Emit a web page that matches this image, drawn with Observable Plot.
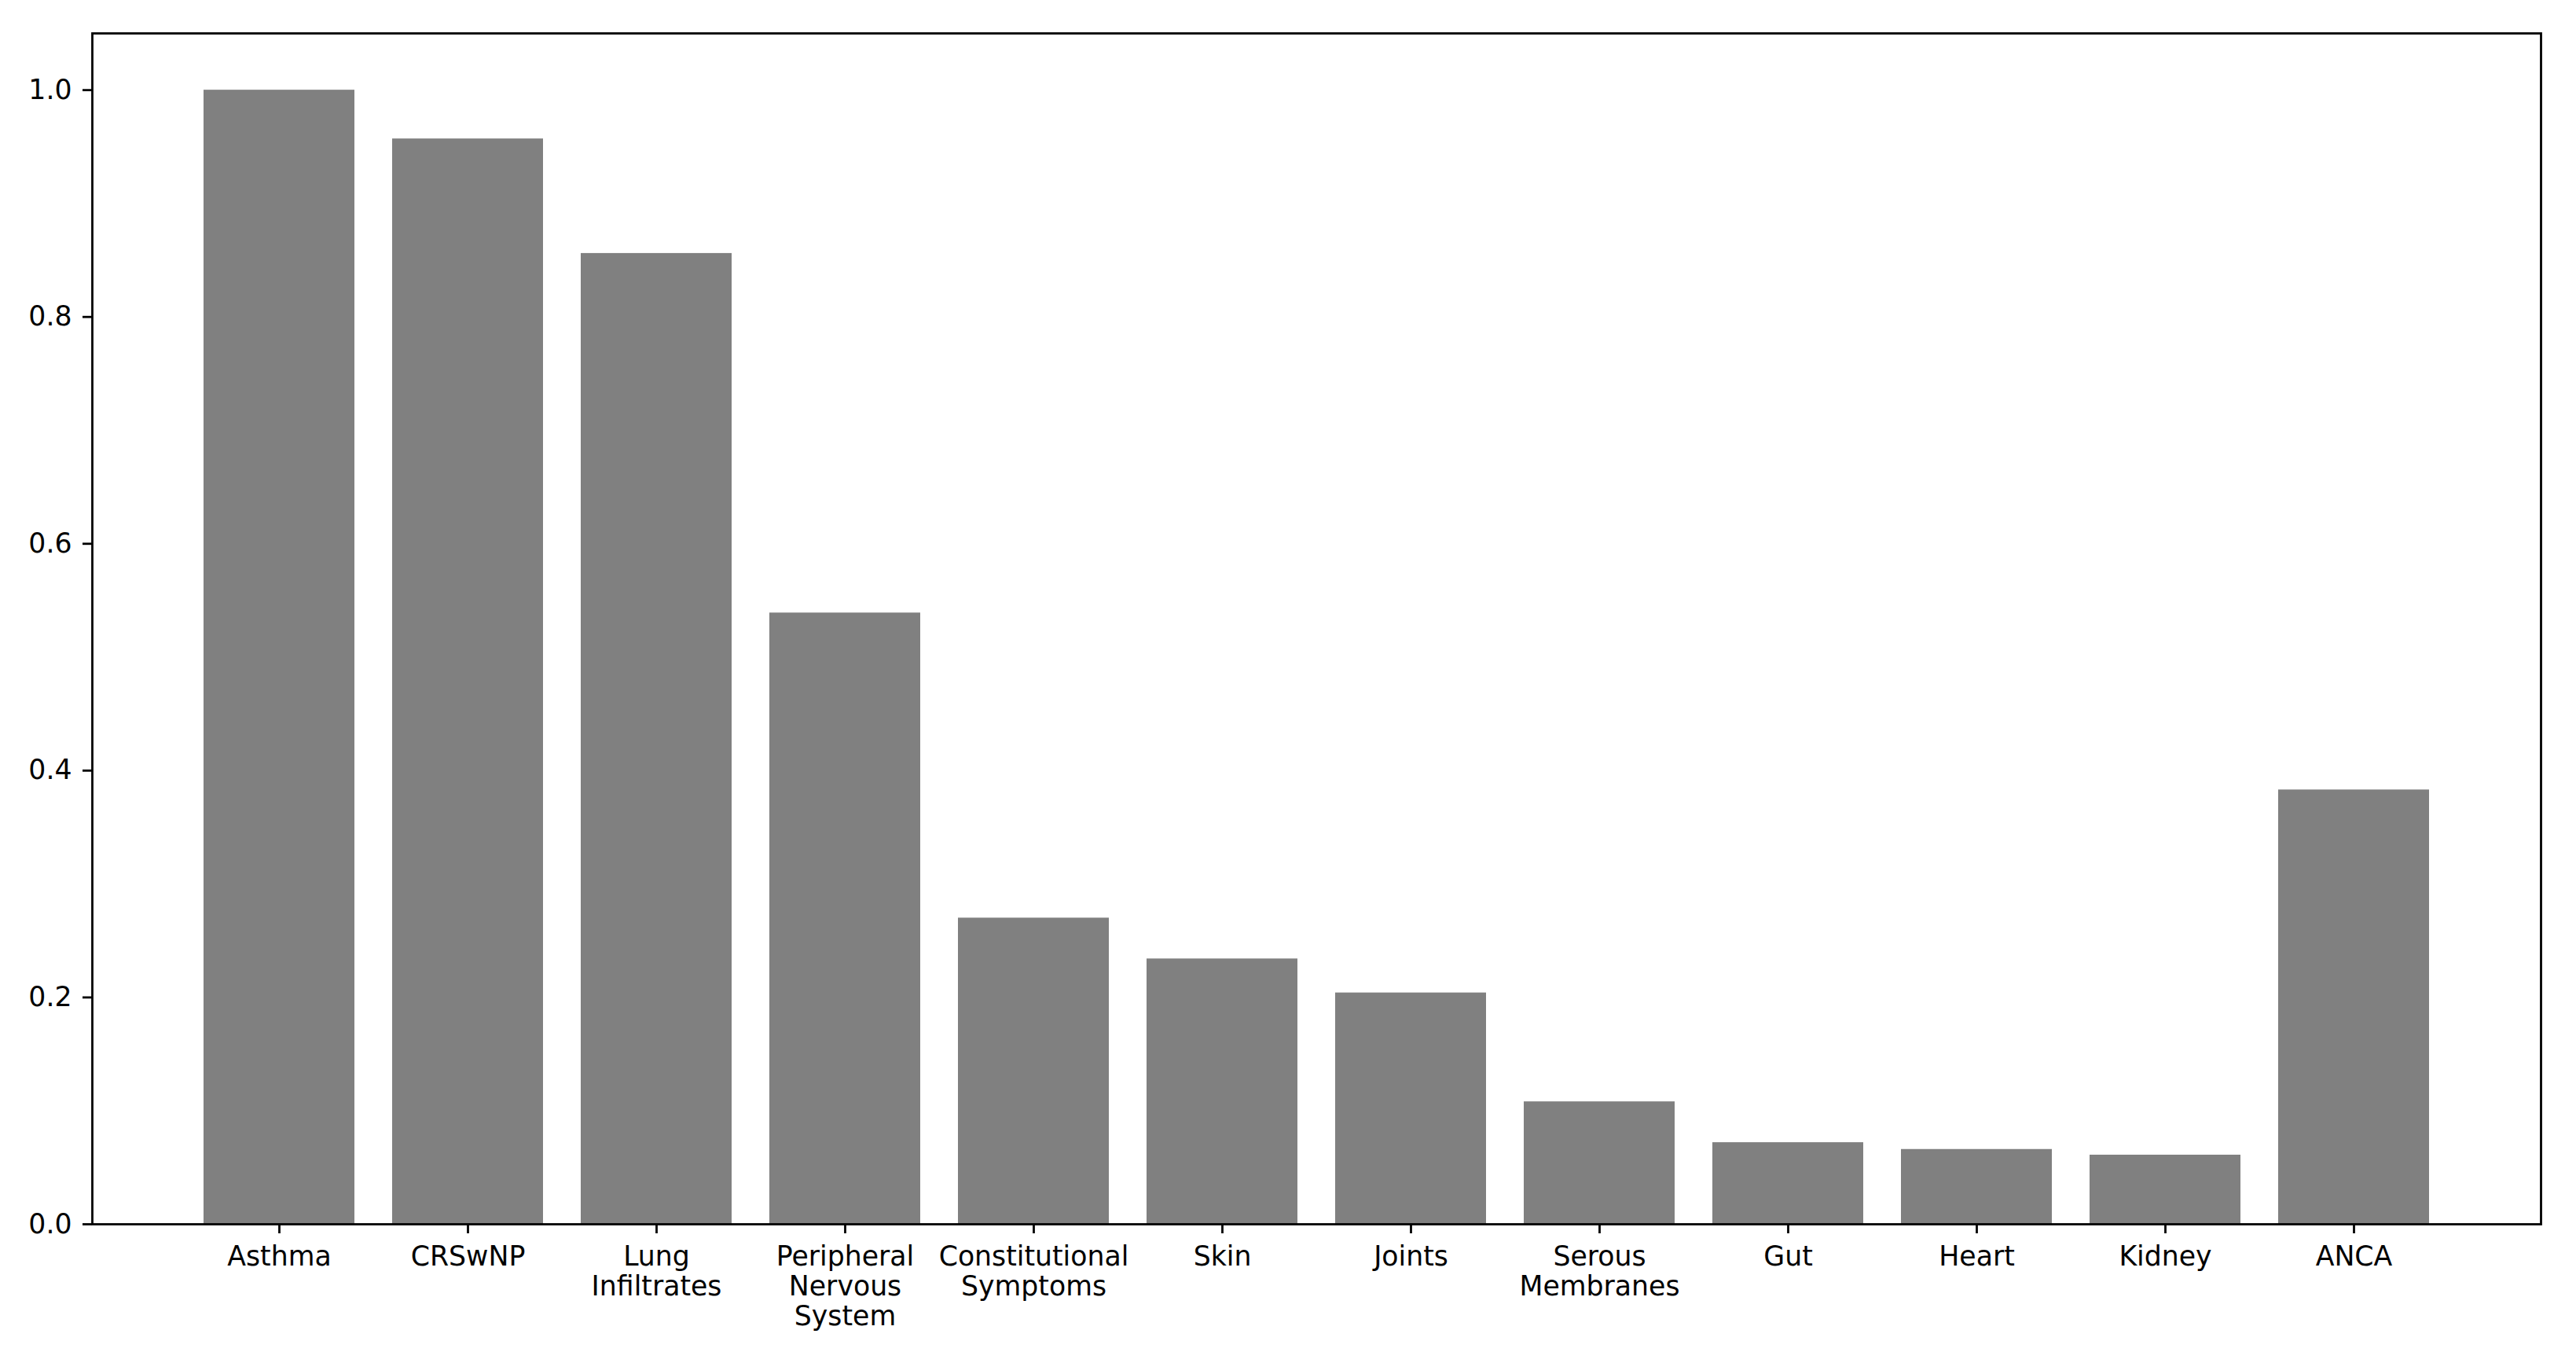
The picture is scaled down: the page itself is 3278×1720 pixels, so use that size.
<!DOCTYPE html>
<html>
<head>
<meta charset="utf-8">
<script src="https://cdn.jsdelivr.net/npm/d3@7"></script>
<script src="https://cdn.jsdelivr.net/npm/@observablehq/plot@0.6"></script>
<style>
  html, body { margin: 0; padding: 0; background: #ffffff; }
  #chart svg { display: block; }
</style>
</head>
<body>
<div id="chart"></div>
<script>
// Categories (tick labels, with line breaks as in the reference)
const categories = [
  "Asthma",
  "CRSwNP",
  "Lung\nInfiltrates",
  "Peripheral\nNervous\nSystem",
  "Constitutional\nSymptoms",
  "Skin",
  "Joints",
  "Serous\nMembranes",
  "Gut",
  "Heart",
  "Kidney",
  "ANCA"
];
// Series values
const values = [1.0, 0.957, 0.856, 0.539, 0.270, 0.234, 0.204, 0.108, 0.072, 0.066, 0.061, 0.383];
// Y tick values
const yTicks = [0, 0.2, 0.4, 0.6, 0.8, 1.0];

const data = categories.map((c, i) => ({category: c, value: values[i]}));

const W = 3278, H = 1720;
const FS = 34.7;

const chart = Plot.plot({
  width: W,
  height: H,
  marginLeft: 117,
  marginRight: 45,
  marginTop: 42,
  marginBottom: 163,
  style: {background: "#ffffff", color: "#000000", fontFamily: "DejaVu Sans", fontSize: FS + "px"},
  x: {domain: categories, paddingInner: 0.2, paddingOuter: 0.59, align: 0.5, label: null},
  y: {domain: [0, 1.05], label: null},
  marks: [
    Plot.barY(data, {x: "category", y: "value", fill: "#808080"}),
    Plot.frame({stroke: "#000000", strokeWidth: 2.8}),
    Plot.axisX({
      tickSize: 12,
      tickPadding: 13,
      strokeWidth: 2.8,
      fontSize: FS,
      lineHeight: 1.1,
      fill: "#000000",
      label: null
    }),
    Plot.axisY({
      ticks: yTicks,
      tickFormat: d3.format(".1f"),
      tickSize: 12,
      tickPadding: 14,
      strokeWidth: 2.8,
      fontSize: FS,
      fill: "#000000",
      label: null
    })
  ]
});

document.getElementById("chart").appendChild(chart);
</script>
</body>
</html>
